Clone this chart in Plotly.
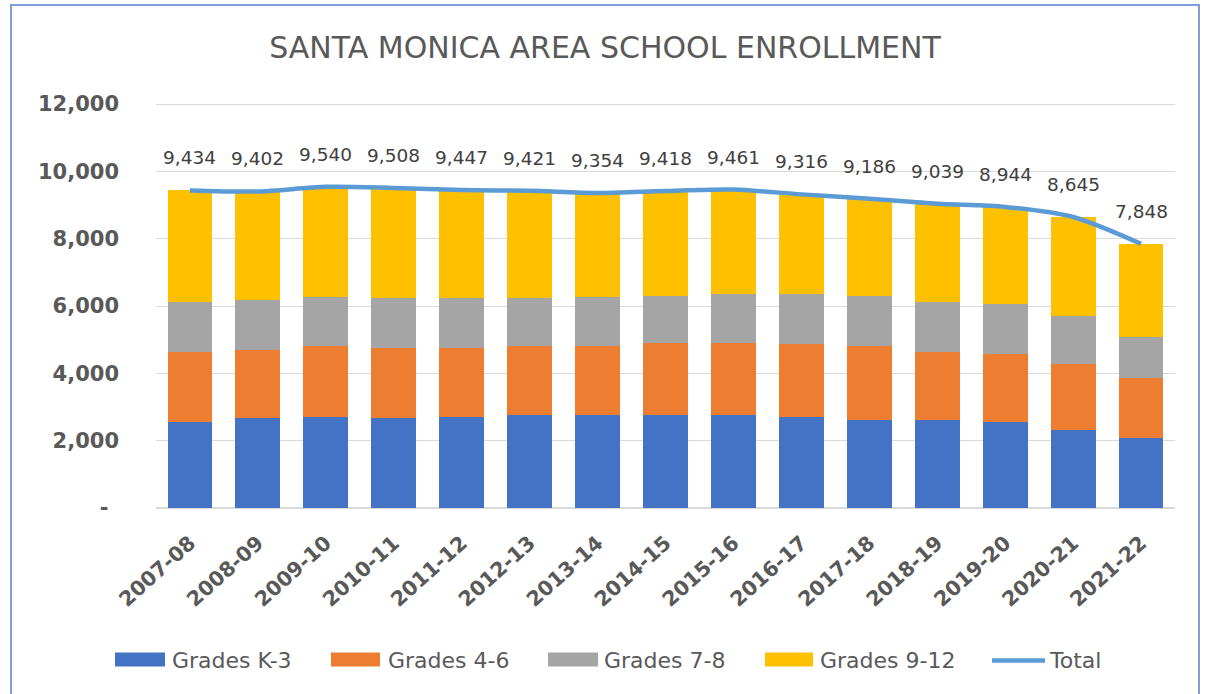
import plotly.graph_objects as go

# ---------------- data ----------------
years = ["2007-08", "2008-09", "2009-10", "2010-11", "2011-12", "2012-13", "2013-14",
         "2014-15", "2015-16", "2016-17", "2017-18", "2018-19", "2019-20", "2020-21", "2021-22"]
grades_k3 = [2542, 2661, 2710, 2661, 2710, 2770, 2770, 2770, 2770, 2710, 2601, 2601, 2542, 2315, 2077]
grades_4_6 = [2097, 2037, 2107, 2097, 2048, 2047, 2047, 2146, 2146, 2156, 2216, 2038, 2018, 1948, 1790]
grades_7_8 = [1494, 1484, 1464, 1483, 1483, 1424, 1464, 1375, 1434, 1484, 1474, 1484, 1503, 1454, 1227]
grades_9_12 = [3301, 3220, 3259, 3267, 3206, 3180, 3073, 3127, 3111, 2966, 2895, 2916, 2881, 2928, 2754]
totals = [9434, 9402, 9540, 9508, 9447, 9421, 9354, 9418, 9461, 9316, 9186, 9039, 8944, 8645, 7848]
series_names = ["Grades K-3", "Grades 4-6", "Grades 7-8", "Grades 9-12", "Total"]
y_tickvals = [0, 2000, 4000, 6000, 8000, 10000, 12000]
y_ticktext = ["-\u2002", "2,000", "4,000", "6,000", "8,000", "10,000", "12,000"]
title_text = "SANTA MONICA AREA SCHOOL ENROLLMENT"

# ---------------- styling ----------------
FONT = "DejaVu Sans"
TXT = "#595959"
GRID = "#D9D9D9"
colors = ["#4472C4", "#ED7D31", "#A5A5A5", "#FFC000", "#5B9BD5"]

W, H = 1205, 694
PL, PR, PT, PB = 156, 1175, 102, 508.3   # plot area in pixels (top has 2px headroom above 12,000)
Y_MAX = 12060


def xp(px):
    return (px - PL) / (PR - PL)


def yp(py):
    return (PB - py) / (PB - PT)


fig = go.Figure()
for name, vals, col in zip(series_names[:4], [grades_k3, grades_4_6, grades_7_8, grades_9_12], colors[:4]):
    fig.add_trace(go.Bar(x=years, y=vals, name=name, marker=dict(color=col, line=dict(width=0)),
                         showlegend=False))

fig.add_trace(go.Scatter(x=years, y=totals, name="Total", mode="lines",
                         line=dict(color=colors[4], width=4.5, shape="spline", smoothing=0.8),
                         showlegend=False))

annotations = []
for yr, t in zip(years, totals):
    annotations.append(dict(x=yr, y=t, xref="x", yref="y", text=f"{t:,}", showarrow=False,
                            xanchor="center", yanchor="bottom", yshift=20,
                            font=dict(family=FONT, size=18.5, color="#404040")))

# custom legend (wide swatches like the reference)
shapes = []
legend_layout = [  # (swatch x0, x1, text x)
    (115, 165, 170),
    (331, 380, 386),
    (548, 598, 602),
    (765, 813, 818),
    (992, 1045, 1047),
]
for i, (name, (x0, x1, tx)) in enumerate(zip(series_names, legend_layout)):
    if i < 4:
        shapes.append(dict(type="rect", xref="paper", yref="paper",
                           x0=xp(x0), x1=xp(x1), y0=yp(667), y1=yp(653),
                           fillcolor=colors[i], line=dict(width=0)))
    else:
        shapes.append(dict(type="line", xref="paper", yref="paper",
                           x0=xp(x0), x1=xp(x1), y0=yp(661), y1=yp(661),
                           line=dict(color=colors[i], width=4.5)))
    annotations.append(dict(x=xp(tx), y=yp(660.5), xref="paper", yref="paper", text=name,
                            showarrow=False, xanchor="left", yanchor="middle",
                            font=dict(family=FONT, size=22, color=TXT)))

# chart frame
shapes.append(dict(type="rect", xref="paper", yref="paper",
                   x0=xp(11), x1=xp(1199), y0=yp(720), y1=yp(5),
                   line=dict(color="#7F9FDB", width=2), fillcolor="rgba(0,0,0,0)", layer="below"))

fig.update_layout(
    width=W, height=H,
    barmode="stack", bargap=0.34,
    paper_bgcolor="white", plot_bgcolor="white",
    margin=dict(l=PL, r=W - PR, t=PT, b=H - PB, pad=0),
    title=dict(text=title_text, x=605 / W, xanchor="center", y=1 - 47 / H, yanchor="middle",
               font=dict(family=FONT, size=30, color=TXT)),
    showlegend=False,
    annotations=annotations,
    shapes=shapes,
    xaxis=dict(type="category", tickangle=-42, showgrid=False, showline=False, zeroline=False,
               ticks="", ticklabelstandoff=18,
               tickfont=dict(family=FONT, size=20.5, color=TXT, weight="bold")),
    yaxis=dict(range=[0, Y_MAX], tickvals=y_tickvals, ticktext=y_ticktext, showgrid=True,
               gridcolor=GRID, gridwidth=1.2, zeroline=True, zerolinecolor=GRID, zerolinewidth=1.5,
               showline=False, ticks="", ticklabelstandoff=36,
               tickfont=dict(family=FONT, size=21, color=TXT, weight="bold")),
)

fig.write_html("out.html", config={"displayModeBar": False},
               post_script="document.body.style.margin='0';document.body.style.padding='0';")
